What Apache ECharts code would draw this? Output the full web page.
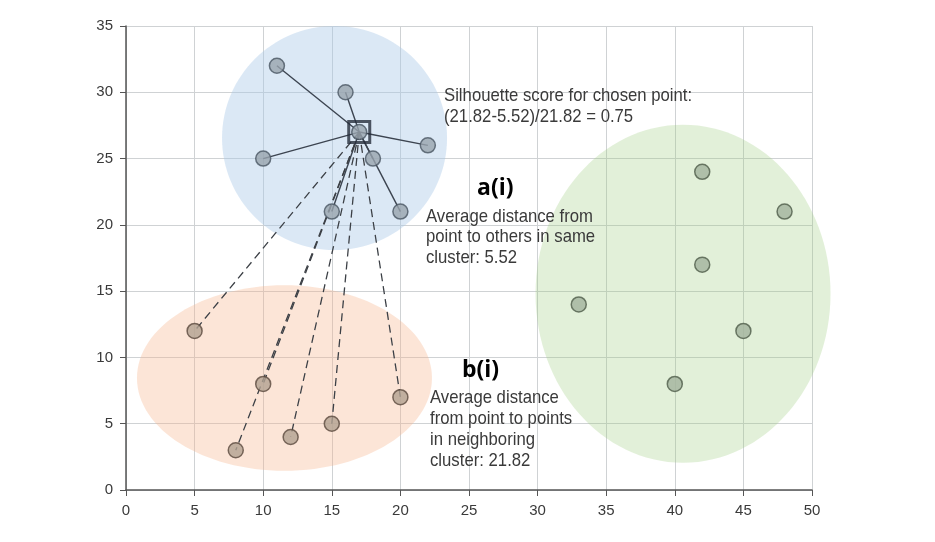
<!DOCTYPE html>
<html lang="en">
<head>
    <meta charset="UTF-8">
    <title>Silhouette score</title>
    <style>
        html, body { margin: 0; padding: 0; background: #fff; }
        #main { width: 935px; height: 542px; }
    </style>
    <script src="https://cdn.jsdelivr.net/npm/echarts@6/dist/echarts.min.js"></script>
</head>
<body>
<div id="main"></div>
<script>
// cluster points
var bluePts = [[11, 32], [16, 30], [10, 25], [22, 26], [18, 25], [15, 21], [20, 21], [17, 27]];
var redPts = [[5, 12], [10, 8], [8, 3], [12, 4], [15, 5], [20, 7]];
var greenPts = [[42, 24], [48, 21], [42, 17], [33, 14], [45, 12], [40, 8]];
var chosen = [17, 27];

// cluster ellipses: [cx, cy, rx, ry]
var ellipses = [
    [15.2, 26.55, 8.2, 8.45],
    [11.55, 8.45, 10.75, 7.0],
    [40.6, 14.8, 10.75, 12.75]
];
var ellipseColors = ['rgba(170,200,232,0.42)', 'rgba(245,180,140,0.35)', 'rgba(160,205,130,0.3)'];

var xTicks = [0, 50, 5];
var yTicks = [0, 35, 5];

var sans = '"Liberation Sans", Arial, sans-serif';
var textColor = '#3a3a3a';

function segments(pts) {
    var res = [];
    for (var i = 0; i < pts.length; i++) {
        if (pts[i][0] == chosen[0] && pts[i][1] == chosen[1]) continue;
        res.push({ coords: [chosen, pts[i]] });
    }
    return res;
}

function pointSeries(data, fill, border) {
    return {
        type: 'scatter',
        data: data,
        symbol: 'circle',
        symbolSize: 15,
        z: 5,
        itemStyle: { color: fill, borderColor: border, borderWidth: 1.5 }
    };
}

// condensed text, no narrow font installed so squeeze it
function note(text, left, top, lh) {
    return {
        type: 'text', left: left, top: top, z: 20,
        scaleX: 0.88, originX: 0, originY: 0,
        style: { text: text, font: '19px ' + sans, fill: textColor, lineHeight: lh }
    };
}

var chart = echarts.init(document.getElementById('main'));
var option = {
    animation: false,
    grid: { left: 126, right: 123, top: 26, bottom: 52 },
    xAxis: {
        type: 'value', min: xTicks[0], max: xTicks[1], interval: xTicks[2],
        axisLine: { lineStyle: { color: '#555', width: 1.5 } },
        axisTick: { show: true, length: 6, lineStyle: { color: '#555' } },
        axisLabel: { margin: 13, fontFamily: sans, fontSize: 15, color: textColor },
        splitLine: { show: true, lineStyle: { color: '#cfd2d4', width: 1 } }
    },
    yAxis: {
        type: 'value', min: yTicks[0], max: yTicks[1], interval: yTicks[2],
        axisLine: { show: true, lineStyle: { color: '#555', width: 1.5 } },
        axisTick: { show: true, length: 6, lineStyle: { color: '#555' } },
        axisLabel: { margin: 13, fontFamily: sans, fontSize: 15, color: textColor },
        splitLine: { show: true, lineStyle: { color: '#cfd2d4', width: 1 } }
    },
    series: [
        {
            type: 'custom',
            z: 1,
            clip: false,
            data: ellipses,
            renderItem: function (params, api) {
                var c = api.coord([api.value(0), api.value(1)]);
                var s = api.size([api.value(2), api.value(3)]);
                return {
                    type: 'ellipse',
                    shape: { cx: c[0], cy: c[1], rx: s[0], ry: s[1] },
                    style: { fill: ellipseColors[params.dataIndex] }
                };
            }
        },
        {
            type: 'lines',
            coordinateSystem: 'cartesian2d',
            z: 3,
            data: segments(bluePts),
            lineStyle: { color: '#3c4450', width: 1.4, type: 'solid', opacity: 1 }
        },
        {
            type: 'lines',
            coordinateSystem: 'cartesian2d',
            z: 3,
            data: segments(redPts),
            lineStyle: { color: '#3c4046', width: 1.3, type: [8, 5], opacity: 1 }
        },
        pointSeries(bluePts, '#98a4ae', '#4a5663'),
        pointSeries(redPts, '#b3a392', '#5b4a3e'),
        pointSeries(greenPts, '#a3b39d', '#4f5c4a'),
        {
            type: 'scatter',
            data: [chosen],
            symbol: 'rect',
            symbolSize: 21,
            z: 6,
            itemStyle: { color: 'rgba(0,0,0,0)', borderColor: '#262d3b', borderWidth: 3 }
        }
    ],
    graphic: [
        note('Silhouette score for chosen point:\n(21.82-5.52)/21.82 = 0.75', 444, 85, 21),
        {
            type: 'text', left: 477, top: 177, z: 20,
            style: { text: 'a(i)', font: 'bold 23px "Open Sans", sans-serif', fill: '#000' }
        },
        note('Average distance from\npoint to others in same\ncluster: 5.52', 426, 206.5, 20.5),
        {
            type: 'text', left: 462, top: 359, z: 20,
            style: { text: 'b(i)', font: 'bold 23px "Open Sans", sans-serif', fill: '#000' }
        },
        note('Average distance\nfrom point to points\nin neighboring\ncluster: 21.82', 430, 387.5, 21)
    ]
};
chart.setOption(option);
</script>
</body>
</html>
